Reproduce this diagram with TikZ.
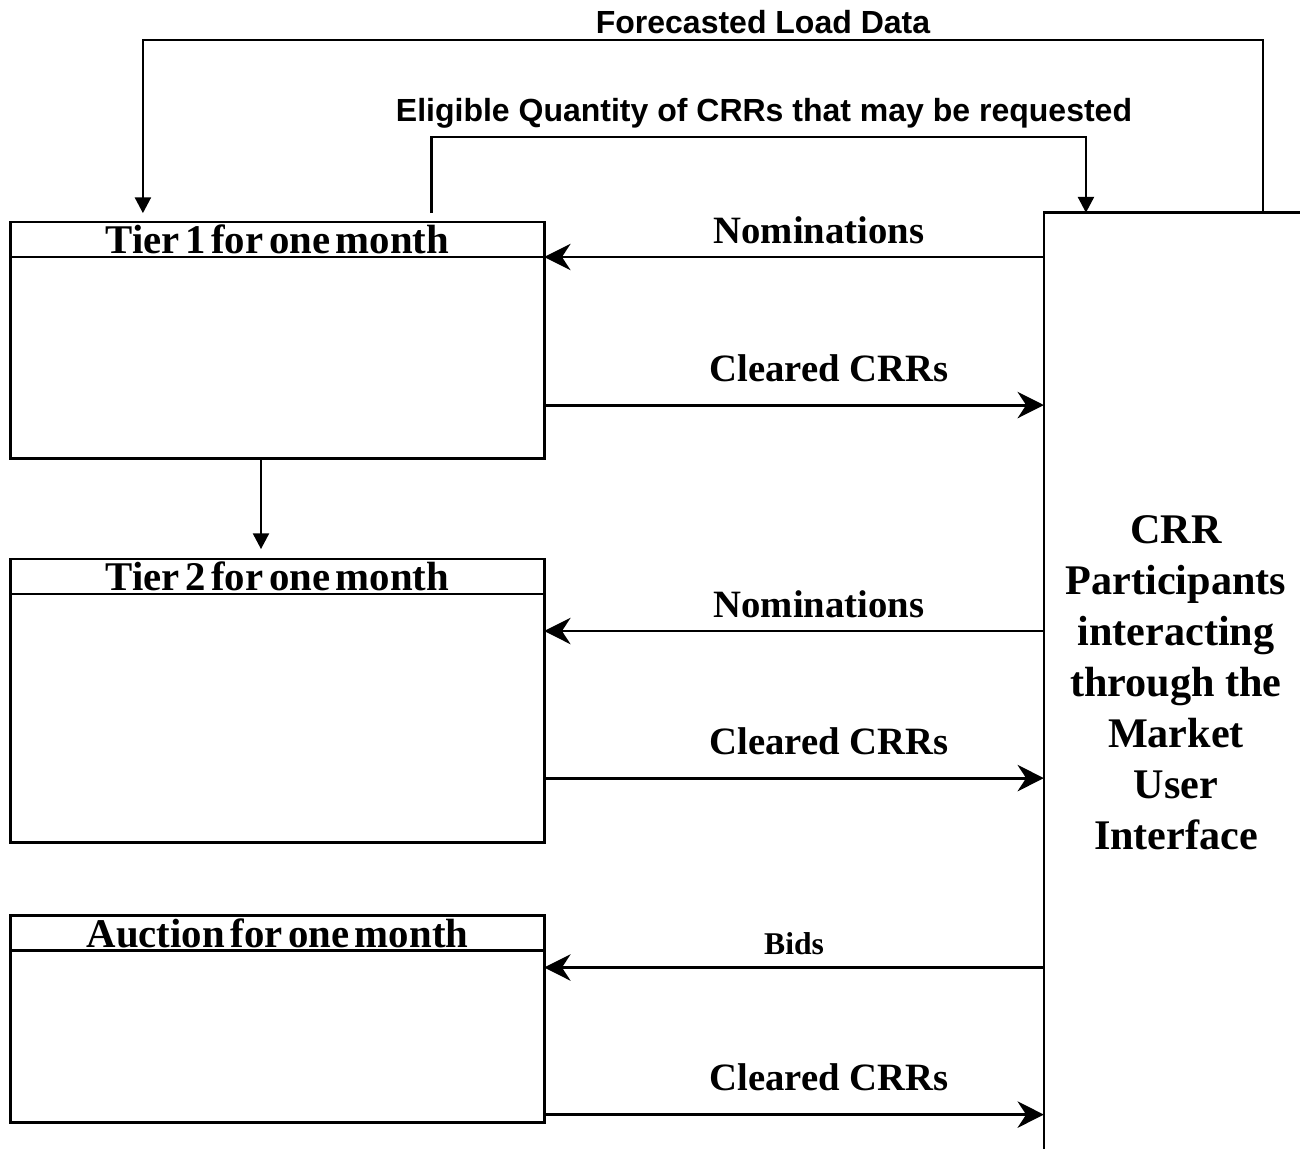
\documentclass[tikz,border=0pt]{standalone}
\usepackage{fontspec}
\setmainfont{Liberation Serif}
\setsansfont{Liberation Sans}
\newfontfamily\headfont[WordSpace=0.55]{Liberation Serif}
\usetikzlibrary{positioning,arrows.meta}

\begin{document}
\begin{tikzpicture}[x=0.01cm,y=-0.01cm,line width=0.8pt,
  >={Stealth[length=7.5pt,width=7.5pt]},
  vtip/.style={-{Triangle[length=4.5pt,width=4.5pt]}},
  every node/.style={font=\bfseries,align=center},
  head/.style={draw,minimum width=5.33cm,minimum height=0.35cm,inner sep=0pt,
    outer sep=0pt,font=\headfont\bfseries\fontsize{11.6}{14}\selectfont},
  tbody/.style={draw,minimum width=5.33cm,inner sep=0pt,outer sep=0pt},
  lbl/.style={font=\fontsize{11}{13}\bfseries},
  toplbl/.style={font=\sffamily\fontsize{9.1}{11}\bfseries}]
\useasboundingbox (0,0) rectangle (1300,1149);
\clip (0,0) rectangle (1300,1149);

% the three processes
\node[head] (t1h) at (277.5,239.5) {Tier 1 for one month};
\node[tbody,minimum height=2.01cm,below=0pt of t1h] (t1) {};
\node[head] (t2h) at (277.5,576.5) {Tier 2 for one month};
\node[tbody,minimum height=2.48cm,below=0pt of t2h] (t2) {};
\node[head] (auh) at (277.5,933) {Auction for one month};
\node[tbody,minimum height=1.72cm,below=0pt of auh] (au) {};

% participants (runs off the page)
\node[draw,minimum width=2.64cm,minimum height=9.4cm,outer sep=0pt,
  font=\fontsize{12}{14.5}\bfseries] (part) at (1176,683)
  {CRR\\Participants\\interacting\\through the\\Market\\User\\Interface};

\coordinate (fld) at (700,40);
\coordinate (eqc) at (700,137);
\node[toplbl] (fldl) at (763,22) {Forecasted Load Data};
\node[toplbl] (eql)  at (764,113) {Eligible Quantity of CRRs that may be requested};

\draw[vtip,shorten >=2.5pt] ([xshift=2.19cm]part.north west) |- (fld)
  -| ([xshift=1.32cm]t1h.north west);
\draw[vtip,shorten <=2.5pt] ([xshift=1.535cm]t1h.north) |- (eqc)
  -| ([xshift=0.42cm]part.north west);
\draw[vtip,shorten >=2.8pt] ([xshift=-0.165cm]t1.south) -- ([xshift=-0.165cm]t2h.north);

\draw[->] (part.west |- t1.north) -- node[lbl,above,pos=.45] {Nominations} (t1.north east);
\draw[->] ([yshift=-1.48cm]t1.north east) -- node[lbl,above=3pt,pos=.57] {Cleared CRRs}
  ([yshift=-1.48cm]t1.north east -| part.west);
\draw[->] ([yshift=-0.37cm]t2.north east -| part.west) -- node[lbl,above,pos=.45] {Nominations}
  ([yshift=-0.37cm]t2.north east);
\draw[->] ([yshift=-1.84cm]t2.north east) -- node[lbl,above=3pt,pos=.57] {Cleared CRRs}
  ([yshift=-1.84cm]t2.north east -| part.west);
\draw[->] ([yshift=-0.17cm]au.north east -| part.west) -- node[above,pos=.5,
  font=\fontsize{9}{11}\bfseries] {Bids} ([yshift=-0.17cm]au.north east);
\draw[->] ([yshift=-1.64cm]au.north east) -- node[lbl,above=3pt,pos=.57] {Cleared CRRs}
  ([yshift=-1.64cm]au.north east -| part.west);
\end{tikzpicture}
\end{document}
